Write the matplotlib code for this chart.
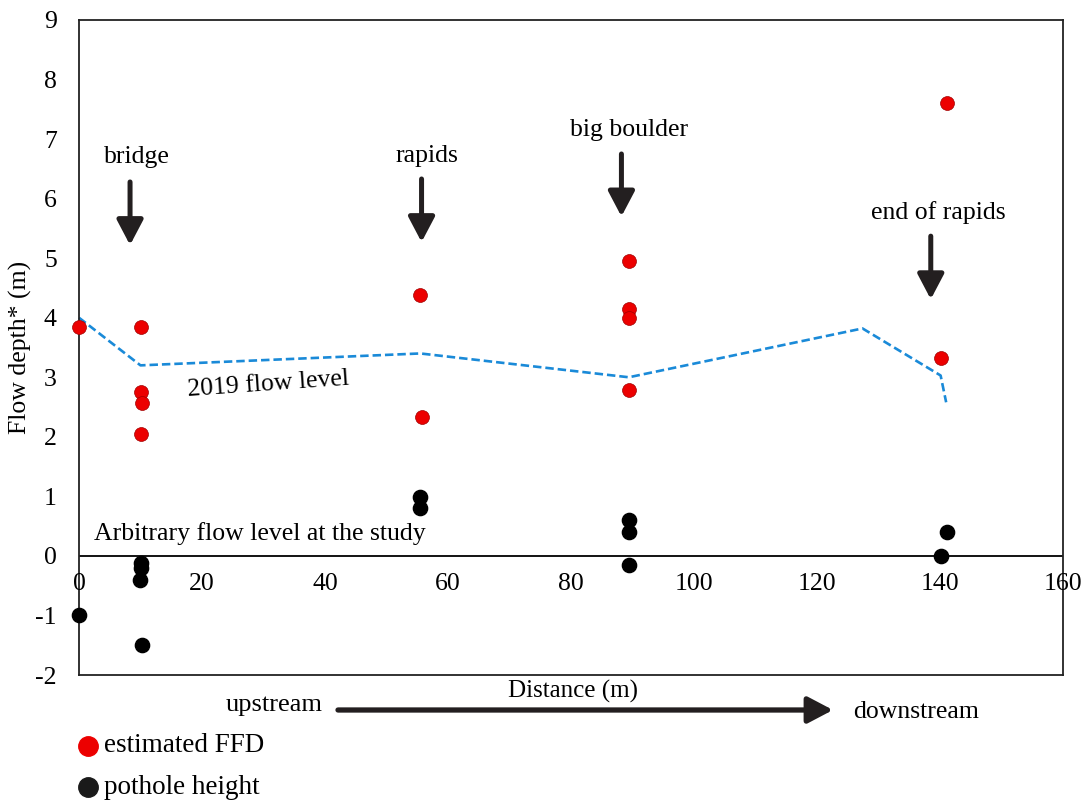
import matplotlib
matplotlib.use("Agg")
import matplotlib.pyplot as plt
from matplotlib.lines import Line2D
from matplotlib.patches import FancyArrowPatch

plt.rcParams['font.family'] = ['Liberation Serif', 'DejaVu Serif']

# Estimated flood flow depth (FFD) at each site
ffd_x = [0, 10.1, 10.1, 10.3, 10.1, 55.5, 55.7, 89.4, 89.4, 89.4, 89.4, 141.1, 140.1]
ffd_y = [3.84, 3.84, 2.76, 2.56, 2.04, 4.39, 2.34, 4.95, 4.14, 4.0, 2.78, 7.61, 3.33]

# Pothole heights relative to the arbitrary flow level
pot_x = [0, 10.1, 10.1, 9.9, 10.3, 55.5, 55.5, 89.4, 89.4, 89.4, 140.1, 141.1]
pot_y = [-1.0, -0.12, -0.2, -0.4, -1.5, 0.99, 0.8, 0.6, 0.4, -0.15, 0.0, 0.4]

# 2019 flow level
flow_x = [0, 10, 55.5, 89.4, 127.4, 140.1, 141.0]
flow_y = [4.0, 3.2, 3.4, 3.0, 3.82, 3.03, 2.58]

# Landmark annotations: label, arrow x, arrow top, arrow tip, label x, label y
landmarks = [
    ("bridge", 8.3, 6.28, 5.22, 9.4, 6.7),
    ("rapids", 55.7, 6.33, 5.27, 56.5, 6.72),
    ("big boulder", 88.2, 6.75, 5.70, 89.4, 7.15),
    ("end of rapids", 138.5, 5.37, 4.31, 139.7, 5.76),
]

x_ticks = [0, 20, 40, 60, 80, 100, 120, 140, 160]
y_ticks = [-2, -1, 0, 1, 2, 3, 4, 5, 6, 7, 8, 9]

FS = 18.5

fig = plt.figure(figsize=(10.85, 8.01), dpi=100)
ax = fig.add_axes([79 / 1085, 1 - 675 / 801, (1063 - 79) / 1085, (675 - 20) / 801])
ax.set_xlim(0, 160)
ax.set_ylim(-2, 9)
for s in ax.spines.values():
    s.set_linewidth(1.3)
    s.set_color('#222222')

ax.axhline(0, color='black', lw=1.3, zorder=1)

ax.plot(flow_x, flow_y, color='#1a8ad8', lw=1.9, ls=(0, (3.2, 1.5)), zorder=2,
        clip_on=False)
ax.scatter(ffd_x, ffd_y, s=100, color='#ec0000', edgecolor='#a00000', lw=0.5,
           zorder=4, clip_on=False)
ax.scatter(pot_x, pot_y, s=105, color='black', zorder=4, clip_on=False)

# ticks: y on left spine, x labels just below the zero line
ax.set_yticks(y_ticks)
ax.set_yticklabels([str(v) for v in y_ticks], fontsize=FS)
ax.tick_params(axis='y', length=0, pad=16)
ax.set_xticks([])
for xv in x_ticks:
    ax.text(xv, -0.47, str(xv), ha='center', va='center', fontsize=FS)

ax.set_ylabel("Flow depth* (m)", fontsize=FS)
ax.yaxis.set_label_coords(-0.048, 0.5)

for label, ax_x, top, tip, lx, ly in landmarks:
    ax.annotate("", xy=(ax_x, tip), xytext=(ax_x, top),
                arrowprops=dict(arrowstyle='-|>,head_width=0.5,head_length=0.95',
                                color='#231f20', lw=3.6, shrinkA=0, shrinkB=0,
                                mutation_scale=16))
    ax.text(lx, ly, label, ha='center', va='center', fontsize=FS)

ax.text(30.8, 2.88, "2019 flow level", ha='center', va='center', fontsize=FS,
        rotation=4)
ax.text(2.5, 0.37, "Arbitrary flow level at the study", ha='left', va='center',
        fontsize=FS)

# Labels and direction arrow beneath the axes
fig.text(573 / 1085, 1 - 691 / 801, "Distance (m)", ha='center', va='center', fontsize=FS - 0.5)
fig.text(274 / 1085, 1 - 705 / 801, "upstream", ha='center', va='center', fontsize=FS + 0.5)
fig.text(916 / 1085, 1 - 712 / 801, "downstream", ha='center', va='center', fontsize=FS)
fig.add_artist(FancyArrowPatch(
    (338 / 1085, 1 - 710 / 801), (833 / 1085, 1 - 710 / 801),
    transform=fig.transFigure, arrowstyle='-|>,head_width=0.5,head_length=0.95',
    color='#231f20', lw=3.8, mutation_scale=16, shrinkA=0, shrinkB=0))

fig.add_artist(Line2D([88 / 1085], [1 - 746 / 801], marker='o', ms=14,
                      color='#ec0000', transform=fig.transFigure))
fig.text(104 / 1085, 1 - 746 / 801, "estimated FFD", ha='left', va='center', fontsize=FS + 1)
fig.add_artist(Line2D([88 / 1085], [1 - 787 / 801], marker='o', ms=14,
                      color='#1a1a1a', transform=fig.transFigure))
fig.text(104 / 1085, 1 - 787 / 801, "pothole height", ha='left', va='center', fontsize=FS + 1)

fig.savefig("out.png", dpi=100)
